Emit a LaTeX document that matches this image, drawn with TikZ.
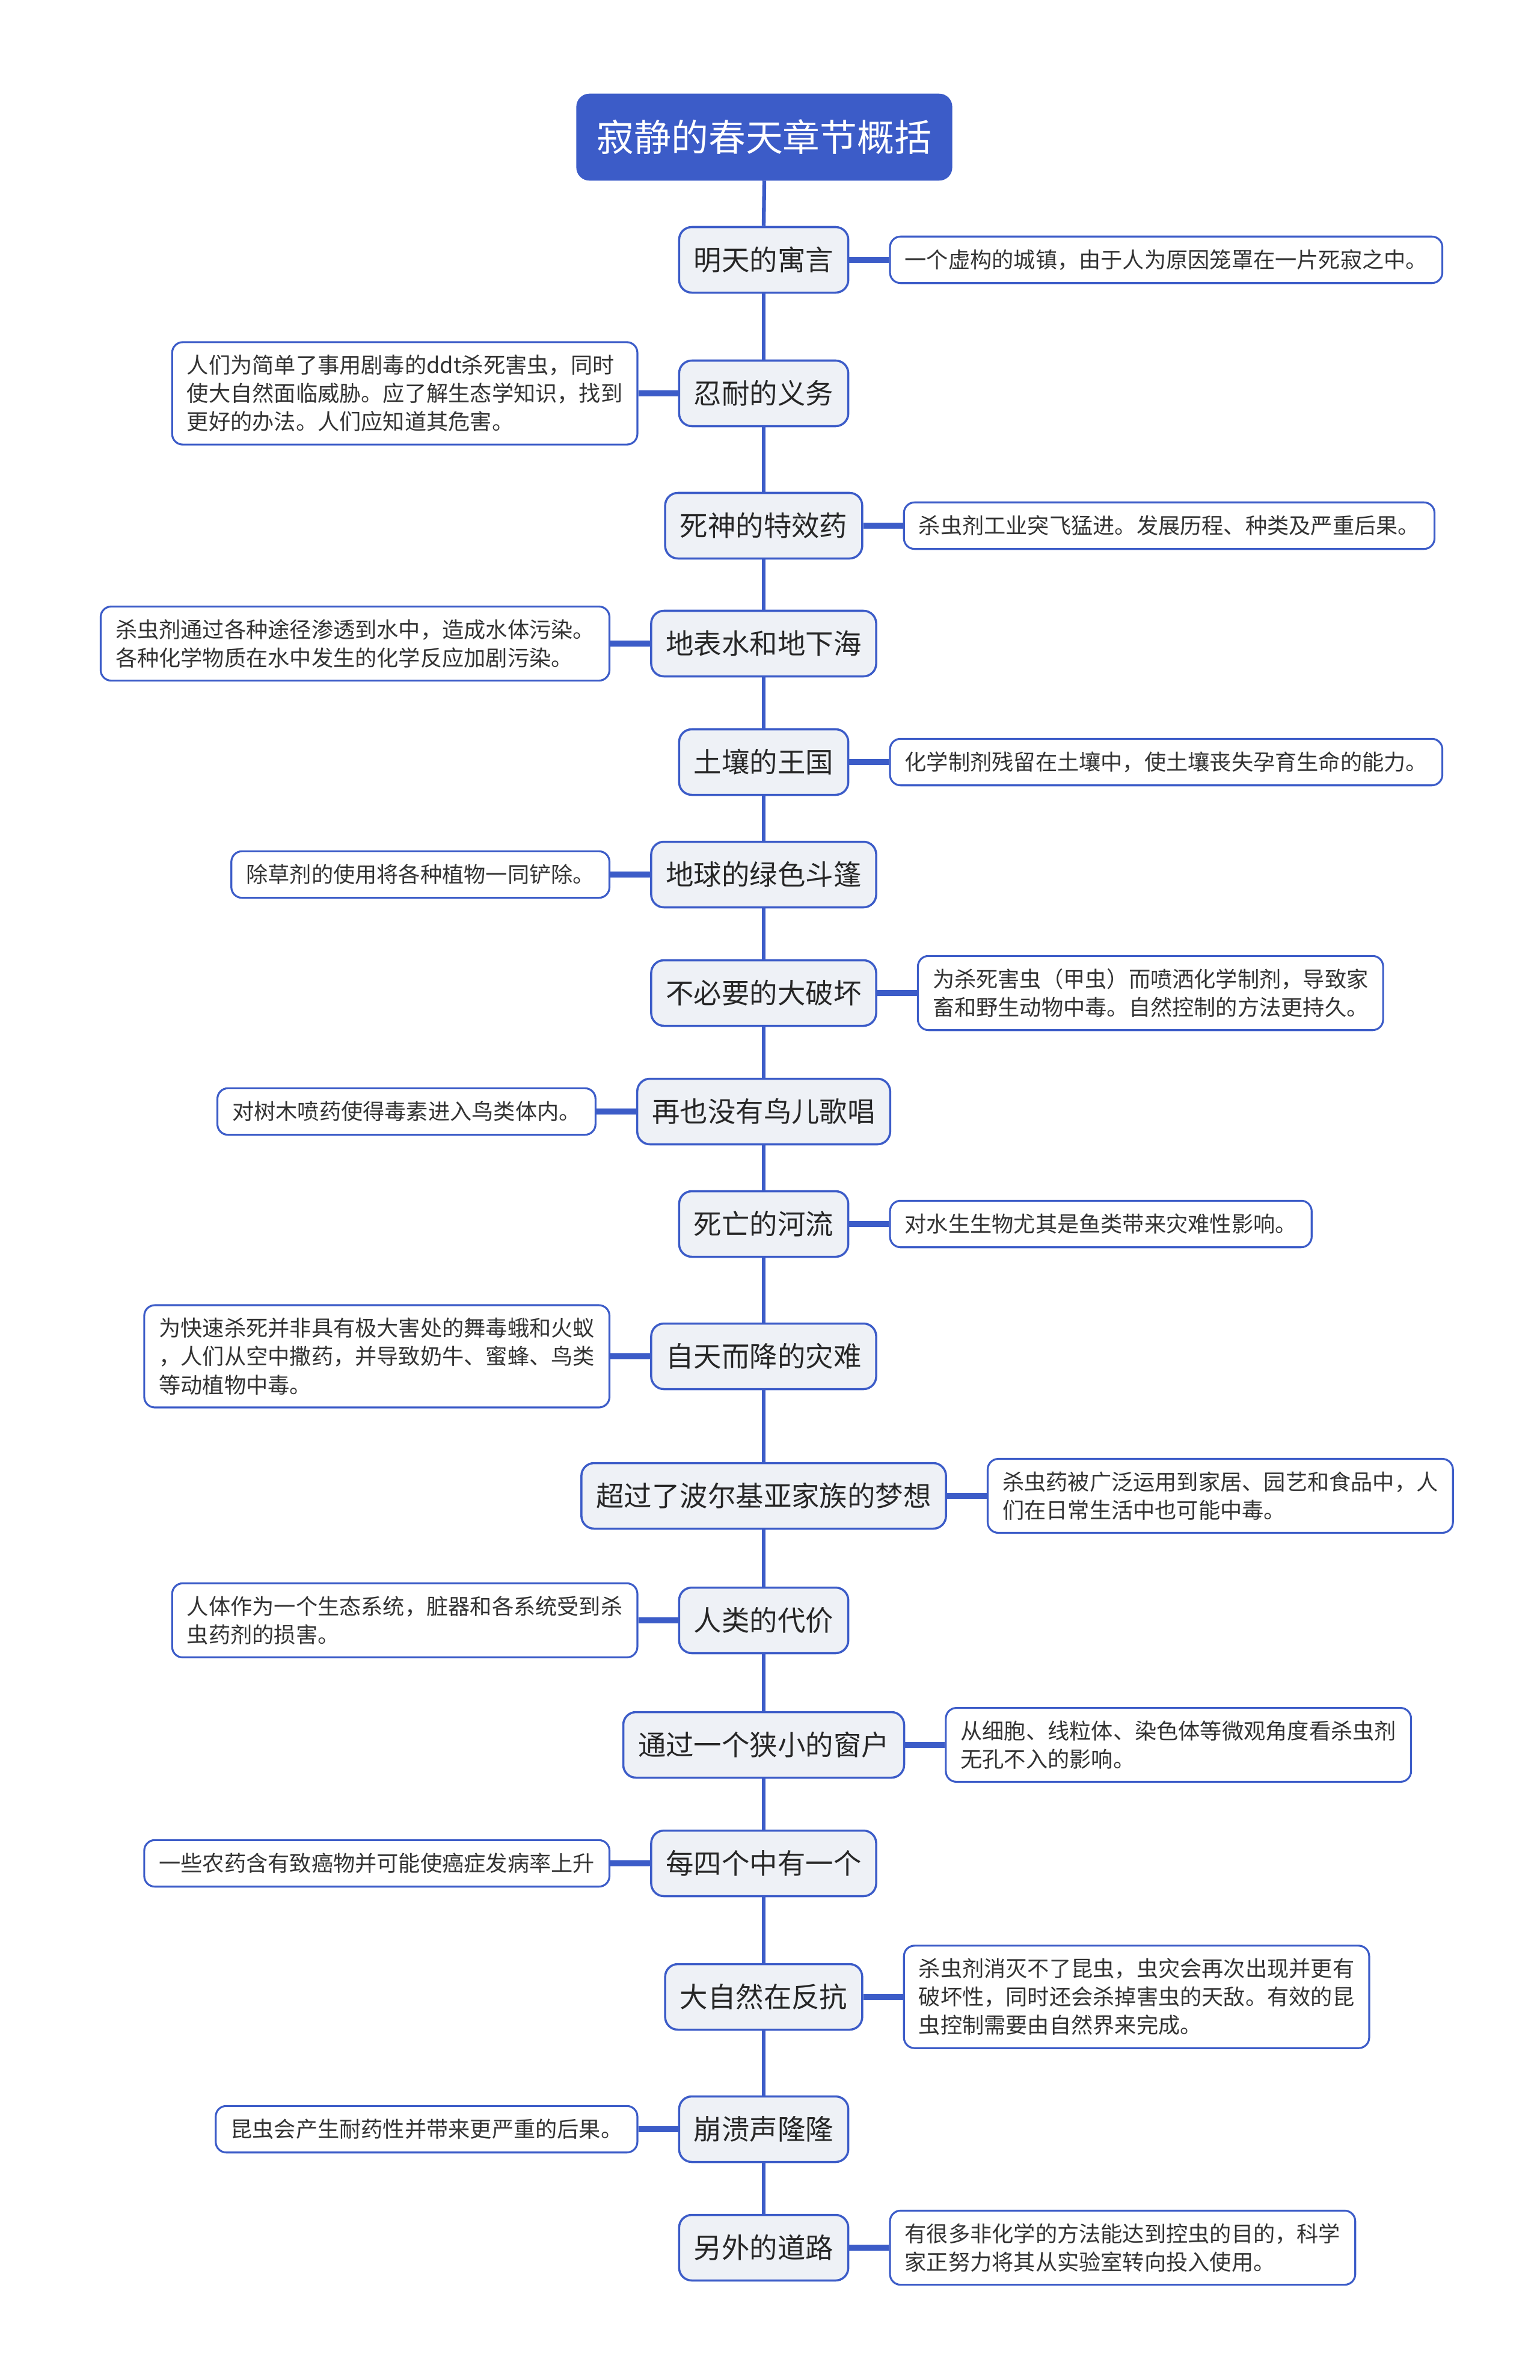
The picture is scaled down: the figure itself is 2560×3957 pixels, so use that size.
\documentclass[tikz,border=0pt]{standalone}
\usepackage{fontspec}
\setmainfont{Noto Sans CJK SC}
\usetikzlibrary{positioning}
\definecolor{mapblue}{HTML}{3C5CC8}
\definecolor{topicfill}{HTML}{EEF1F6}
\definecolor{leaftext}{HTML}{333333}

\begin{document}
\begin{tikzpicture}[x=0.01cm,y=-0.01cm,
	title/.style={rectangle,rounded corners=6pt,fill=mapblue,draw=mapblue,text=white,
		font=\fontsize{17.6}{21}\selectfont,minimum height=40.7pt,inner xsep=9.5pt},
	topic/.style={rectangle,rounded corners=6pt,fill=topicfill,draw=mapblue,line width=1pt,
		text=black!85,font=\fontsize{13.2}{16}\selectfont,minimum height=31pt,inner xsep=7pt},
	leaf/.style={rectangle,rounded corners=5pt,fill=white,draw=mapblue,line width=0.9pt,
		text=leaftext,font=\fontsize{10.3}{13.4}\selectfont,align=left,
		inner xsep=7pt,inner ysep=6pt,minimum height=22pt},
	spine/.style={mapblue,line width=1.8pt},
	twig/.style={mapblue,line width=2.6pt}]
	
	\useasboundingbox (0,0) rectangle (2560,3957);
	
	% root
	\node[title] (t) at (1271,228) {寂静的春天章节概括};
	
	% chapters along the trunk
	\node[topic] (m1) at (1270,432) {明天的寓言};
	\node[topic] (m2) at (1270,654) {忍耐的义务};
	\node[topic] (m3) at (1270,874) {死神的特效药};
	\node[topic] (m4) at (1270,1070) {地表水和地下海};
	\node[topic] (m5) at (1270,1267) {土壤的王国};
	\node[topic] (m6) at (1270,1454) {地球的绿色斗篷};
	\node[topic] (m7) at (1270,1651) {不必要的大破坏};
	\node[topic] (m8) at (1270,1848) {再也没有鸟儿歌唱};
	\node[topic] (m9) at (1270,2035) {死亡的河流};
	\node[topic] (m10) at (1270,2255) {自天而降的灾难};
	\node[topic] (m11) at (1270,2487) {超过了波尔基亚家族的梦想};
	\node[topic] (m12) at (1270,2694) {人类的代价};
	\node[topic] (m13) at (1270,2901) {通过一个狭小的窗户};
	\node[topic] (m14) at (1270,3098) {每四个中有一个};
	\node[topic] (m15) at (1270,3320) {大自然在反抗};
	\node[topic] (m16) at (1270,3540) {崩溃声隆隆};
	\node[topic] (m17) at (1270,3737) {另外的道路};
	
	% summaries, alternating right and left
	\node[leaf,right=0.66cm of m1] (l1) {一个虚构的城镇，由于人为原因笼罩在一片死寂之中。};
	\node[leaf,left=0.66cm of m2] (l2) {人们为简单了事用剧毒的ddt杀死害虫，同时\\使大自然面临威胁。应了解生态学知识，找到\\更好的办法。人们应知道其危害。};
	\node[leaf,right=0.66cm of m3] (l3) {杀虫剂工业突飞猛进。发展历程、种类及严重后果。};
	\node[leaf,left=0.66cm of m4] (l4) {杀虫剂通过各种途径渗透到水中，造成水体污染。\\各种化学物质在水中发生的化学反应加剧污染。};
	\node[leaf,right=0.66cm of m5] (l5) {化学制剂残留在土壤中，使土壤丧失孕育生命的能力。};
	\node[leaf,left=0.66cm of m6] (l6) {除草剂的使用将各种植物一同铲除。};
	\node[leaf,right=0.66cm of m7] (l7) {为杀死害虫（甲虫）而喷洒化学制剂，导致家\\畜和野生动物中毒。自然控制的方法更持久。};
	\node[leaf,left=0.66cm of m8] (l8) {对树木喷药使得毒素进入鸟类体内。};
	\node[leaf,right=0.66cm of m9] (l9) {对水生生物尤其是鱼类带来灾难性影响。};
	\node[leaf,left=0.66cm of m10] (l10) {为快速杀死并非具有极大害处的舞毒蛾和火蚁\\，人们从空中撒药，并导致奶牛、蜜蜂、鸟类\\等动植物中毒。};
	\node[leaf,right=0.66cm of m11] (l11) {杀虫药被广泛运用到家居、园艺和食品中，人\\们在日常生活中也可能中毒。};
	\node[leaf,left=0.66cm of m12] (l12) {人体作为一个生态系统，脏器和各系统受到杀\\虫药剂的损害。};
	\node[leaf,right=0.66cm of m13] (l13) {从细胞、线粒体、染色体等微观角度看杀虫剂\\无孔不入的影响。};
	\node[leaf,left=0.66cm of m14] (l14) {一些农药含有致癌物并可能使癌症发病率上升};
	\node[leaf,right=0.66cm of m15] (l15) {杀虫剂消灭不了昆虫，虫灾会再次出现并更有\\破坏性，同时还会杀掉害虫的天敌。有效的昆\\虫控制需要由自然界来完成。};
	\node[leaf,left=0.66cm of m16] (l16) {昆虫会产生耐药性并带来更严重的后果。};
	\node[leaf,right=0.66cm of m17] (l17) {有很多非化学的方法能达到控虫的目的，科学\\家正努力将其从实验室转向投入使用。};
	
	% trunk
	\foreach \a/\b in {t/m1,m1/m2,m2/m3,m3/m4,m4/m5,m5/m6,m6/m7,m7/m8,m8/m9,
		m9/m10,m10/m11,m11/m12,m12/m13,m13/m14,m14/m15,m15/m16,m16/m17}{
		\draw[spine] (\a.south) -- (\b.north);
	}
	
	% branches to the summaries
	\foreach \i in {1,3,5,7,9,11,13,15,17}{
		\draw[twig] (m\i.east) -- (l\i.west);
	}
	\foreach \i in {2,4,6,8,10,12,14,16}{
		\draw[twig] (m\i.west) -- (l\i.east);
	}
\end{tikzpicture}
\end{document}
